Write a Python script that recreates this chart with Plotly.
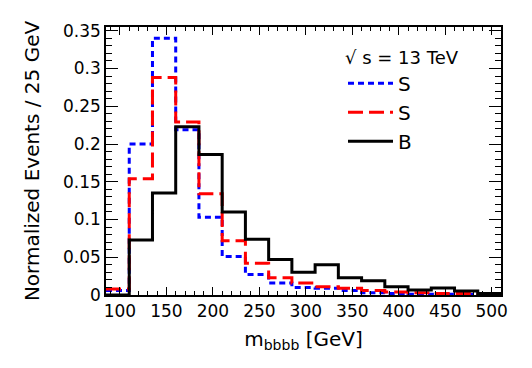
import plotly.graph_objects as go

# 25 GeV bins, low edges plus the final upper edge
bin_edges = [85, 110, 135, 160, 185, 210, 235, 260, 285, 310, 335, 360,
             385, 410, 435, 460, 485, 510]

sig_dotted = [0.006, 0.200, 0.340, 0.219, 0.103, 0.051, 0.027, 0.016, 0.010,
              0.009, 0.006, 0.003, 0.002, 0.001, 0.001, 0.0005, 0.0005]
sig_dashed = [0.008, 0.154, 0.288, 0.229, 0.134, 0.072, 0.042, 0.023, 0.016,
              0.011, 0.009, 0.006, 0.004, 0.003, 0.002, 0.002, 0.0015]
bkg = [0.0, 0.073, 0.135, 0.223, 0.186, 0.110, 0.074, 0.047, 0.030,
       0.040, 0.023, 0.019, 0.011, 0.0066, 0.0093, 0.0053, 0.002]

series = [
    ("S", sig_dotted, "#0000ff", "6px,4px"),
    ("S", sig_dashed, "#ff0000", "15px,6px"),
    ("B", bkg, "#000000", "solid"),
]

FONT = "DejaVu Sans"

fig = go.Figure()
for name, vals, col, dash in series:
    fig.add_trace(go.Scatter(
        x=bin_edges, y=vals + [vals[-1]], mode="lines", name=name,
        line=dict(shape="hv", color=col, width=3, dash=dash),
    ))

axis_common = dict(
    showline=True, linecolor="black", linewidth=1.5, mirror="allticks",
    ticks="inside", tickcolor="black", showgrid=False, zeroline=False,
    tickfont=dict(family=FONT, size=17, color="black"),
)

fig.update_xaxes(
    range=[85, 510], tick0=0, dtick=50, ticklen=8, tickwidth=1.2,
    minor=dict(ticks="inside", dtick=10, ticklen=4, tickcolor="black", tickwidth=1),
    title=dict(text="m<sub>bbbb</sub> [GeV]", font=dict(family=FONT, size=20, color="black"),
               standoff=12),
    **axis_common,
)
fig.update_yaxes(
    range=[0, 0.355], tick0=0, dtick=0.05, ticklen=12, tickwidth=1.2,
    minor=dict(ticks="inside", dtick=0.01, ticklen=6, tickcolor="black", tickwidth=1),
    title=dict(text="Normalized Events / 25 GeV", font=dict(family=FONT, size=20, color="black"),
               standoff=18),
    **axis_common,
)

# page body adds an 8px offset, so the figure is 8px smaller on each side
fig.update_layout(
    width=524, height=360,
    margin=dict(l=98, r=31, t=19, b=73),
    plot_bgcolor="white", paper_bgcolor="white",
    legend=dict(
        x=0.6, y=0.95, xanchor="left", yanchor="top",
        bgcolor="rgba(0,0,0,0)",
        font=dict(family=FONT, size=20, color="black"),
        title=dict(text="√ s = 13 TeV", font=dict(family=FONT, size=18, color="black"),
                   side="top"),
        itemwidth=45, tracegroupgap=0,
    ),
)

fig.write_html("out.html")
